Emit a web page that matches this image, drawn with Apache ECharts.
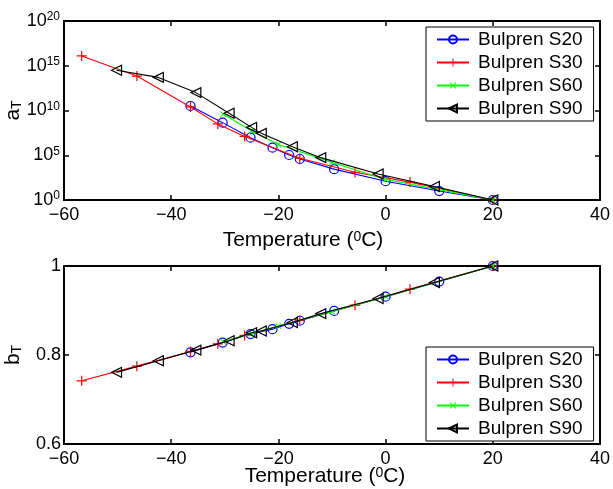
<!DOCTYPE html>
<html>
<head>
<meta charset="utf-8">
<script src="https://cdn.jsdelivr.net/npm/echarts@6/dist/echarts.min.js"></script>
<style>
html,body{margin:0;padding:0;background:#fff;}
#chart{width:613px;height:489px;}
</style>
</head>
<body>
<div id="chart"></div>
<script>
// ---- data ----
const seriesNames = ['Bulpren S20', 'Bulpren S30', 'Bulpren S60', 'Bulpren S90'];
const xTicks = [-60, -40, -20, 0, 20, 40];

const tS20 = [-36.4, -30.4, -25.2, -21.1, -18.0, -16.0, -9.6, 0, 10, 20];
const aS20 = [3.2e10, 4.4e8, 9.1e6, 7.1e5, 1.07e5, 3.8e4, 2.8e3, 126, 10, 1];
const bS20 = [0.806, 0.828, 0.847, 0.858, 0.870, 0.877, 0.899, 0.931, 0.965, 1.0];

const tS30 = [-56.7, -46.4, -36.4, -31.3, -26.3, -16.0, -5.7, 4.55, 20];
const aS30 = [1.26e16, 7.1e13, 2.5e10, 3.2e8, 1.26e7, 4.6e4, 1.26e3, 100, 1];
const bS30 = [0.742, 0.775, 0.808, 0.825, 0.844, 0.878, 0.912, 0.948, 1.0];

const tS60 = [-30.3, -25.0, -20.0, -10.0, 0, 20];
const aS60 = [4.0e9, 5.0e7, 1.6e6, 1.6e4, 200, 1];
const bS60 = [0.830, 0.848, 0.865, 0.898, 0.931, 1.0];

const tS90 = [-50.2, -42.4, -35.4, -29.2, -25.0, -23.2, -17.4, -12.1, -1.4, 9.1, 20];
const aS90 = [3.2e14, 5.0e13, 1.0e12, 4.9e9, 1.3e8, 2.8e7, 9.1e5, 5.4e4, 800, 32, 1];
const bS90 = [0.761, 0.787, 0.811, 0.832, 0.850, 0.854, 0.873, 0.893, 0.927, 0.963, 1.0];

// ---- chart ----
const FONT = '"Liberation Sans", Arial, Helvetica, sans-serif';
const zip = (xs, ys) => xs.map((x, i) => [x, ys[i]]);
const plusPath = 'path://M4.4,0H5.6V10H4.4Z M0,4.4H10V5.6H0Z';

const styles = [
  { color: '#0000ff', symbol: 'circle', symbolSize: 9, rotate: 0, fill: 'rgba(0,0,0,0)', border: '#0000ff', bw: 1.2 },
  { color: '#ff0000', symbol: plusPath, symbolSize: 10, rotate: 0, fill: '#ff0000', border: '#ff0000', bw: 0 },
  { color: '#00ff00', symbol: plusPath, symbolSize: 8, rotate: 45, fill: '#00ff00', border: '#00ff00', bw: 0 },
  { color: '#000000', symbol: 'triangle', symbolSize: 10, rotate: 90, fill: 'rgba(0,0,0,0)', border: '#000000', bw: 1.2 }
];
const tData = [tS20, tS30, tS60, tS90];
const aData = [aS20, aS30, aS60, aS90];
const bData = [bS20, bS30, bS60, bS90];

function mkSeries(gridIdx, yArrs) {
  return seriesNames.map((n, i) => ({
    name: n,
    type: 'line',
    xAxisIndex: gridIdx * 2,
    yAxisIndex: gridIdx * 2,
    data: zip(tData[i], yArrs[i]),
    symbol: styles[i].symbol,
    symbolSize: styles[i].symbolSize,
    symbolRotate: styles[i].rotate,
    showAllSymbol: true,
    color: styles[i].color,
    lineStyle: { color: styles[i].color, width: 1.1 },
    itemStyle: { color: styles[i].fill, borderColor: styles[i].border, borderWidth: styles[i].bw },
    emphasis: { disabled: true },
    animation: false,
    z: 3 + i
  }));
}

const minusFmt = v => String(v).replace('-', '\u2212');
const tickText = { color: '#000', fontSize: 18, fontFamily: FONT };
const supRich = {
  s: { fontSize: 12, fontFamily: FONT, color: '#000', verticalAlign: 'top', padding: [0, 0, 8, 0] },
  b: { fontSize: 18, fontFamily: FONT, color: '#000' }
};
const axLine = { show: true, onZero: false, lineStyle: { color: '#000', width: 2 } };
const axTick = { show: true, inside: true, length: 5, lineStyle: { color: '#000', width: 1.5 } };

function xAxes(gridIdx, gap, shift) {
  return [
    {
      gridIndex: gridIdx, type: 'value', min: -60, max: 40, interval: 20, position: 'bottom',
      axisLine: axLine, axisTick: axTick, splitLine: { show: false },
      axisLabel: Object.assign({ margin: 6, formatter: minusFmt }, tickText),
      name: '{b|Temperature (}{s|0}{b|C)}', nameLocation: 'middle', nameGap: gap, nameMoveOverlap: false,
      nameTextStyle: { fontSize: 21, fontFamily: FONT, color: '#000', padding: [0, shift, 0, 0], rich: {
        b: { fontSize: 21, fontFamily: FONT, color: '#000' },
        s: { fontSize: 14, fontFamily: FONT, color: '#000', verticalAlign: 'top' } } }
    },
    {
      gridIndex: gridIdx, type: 'value', min: -60, max: 40, interval: 20, position: 'top',
      axisLine: axLine, axisTick: axTick, splitLine: { show: false }, axisLabel: { show: false }
    }
  ];
}

const yNameStyle = { rich: {
  a: { fontSize: 21, fontFamily: FONT, color: '#000' },
  s: { fontSize: 14, fontFamily: FONT, color: '#000', verticalAlign: 'bottom' } } };

const option = {
  backgroundColor: '#fff',
  animation: false,
  grid: [
    { left: 64, right: 13, top: 21, height: 179, containLabel: false, outerBoundsMode: 'none' },
    { left: 64, right: 13, top: 266, height: 178, containLabel: false, outerBoundsMode: 'none' }
  ],
  xAxis: [...xAxes(0, 30, 58), ...xAxes(1, 22, 14)],
  yAxis: [
    {
      gridIndex: 0, type: 'log', logBase: 10, min: 1, max: 1e20, interval: 5, position: 'left',
      axisLine: axLine, axisTick: axTick, splitLine: { show: false }, minorTick: { show: false },
      axisLabel: {
        margin: 4,
        formatter: v => '{b|10}{s|' + Math.round(Math.log10(v)) + '}',
        rich: supRich
      },
      name: '{a|a}{s|T}', nameLocation: 'middle', nameGap: 40, nameMoveOverlap: false,
      nameTextStyle: yNameStyle
    },
    {
      gridIndex: 0, type: 'log', logBase: 10, min: 1, max: 1e20, interval: 5, position: 'right',
      axisLine: axLine, axisTick: axTick, splitLine: { show: false }, axisLabel: { show: false }
    },
    {
      gridIndex: 1, type: 'value', min: 0.6, max: 1, interval: 0.2, position: 'left',
      axisLine: axLine, axisTick: axTick, splitLine: { show: false },
      axisLabel: Object.assign({ margin: 3 }, tickText),
      name: '{a|b}{s|T}', nameLocation: 'middle', nameGap: 40, nameMoveOverlap: false,
      nameTextStyle: yNameStyle
    },
    {
      gridIndex: 1, type: 'value', min: 0.6, max: 1, interval: 0.2, position: 'right',
      axisLine: axLine, axisTick: axTick, splitLine: { show: false }, axisLabel: { show: false }
    }
  ],
  legend: [0, 1].map(g => ({
    data: seriesNames,
    orient: 'vertical',
    left: 426, top: g === 0 ? 27 : 347,
    padding: [3, 11, 3, 10],
    itemWidth: 32, itemHeight: 10, itemGap: 4,
    backgroundColor: '#fff',
    borderColor: '#000', borderWidth: 1,
    textStyle: { fontSize: 19, fontFamily: FONT, color: '#000', padding: [0, 0, 0, 4] },
    selectedMode: false
  })),
  series: [...mkSeries(0, aData), ...mkSeries(1, bData)]
};

const chart = echarts.init(document.getElementById('chart'), null, { renderer: 'canvas' });
chart.setOption(option);
</script>
</body>
</html>
